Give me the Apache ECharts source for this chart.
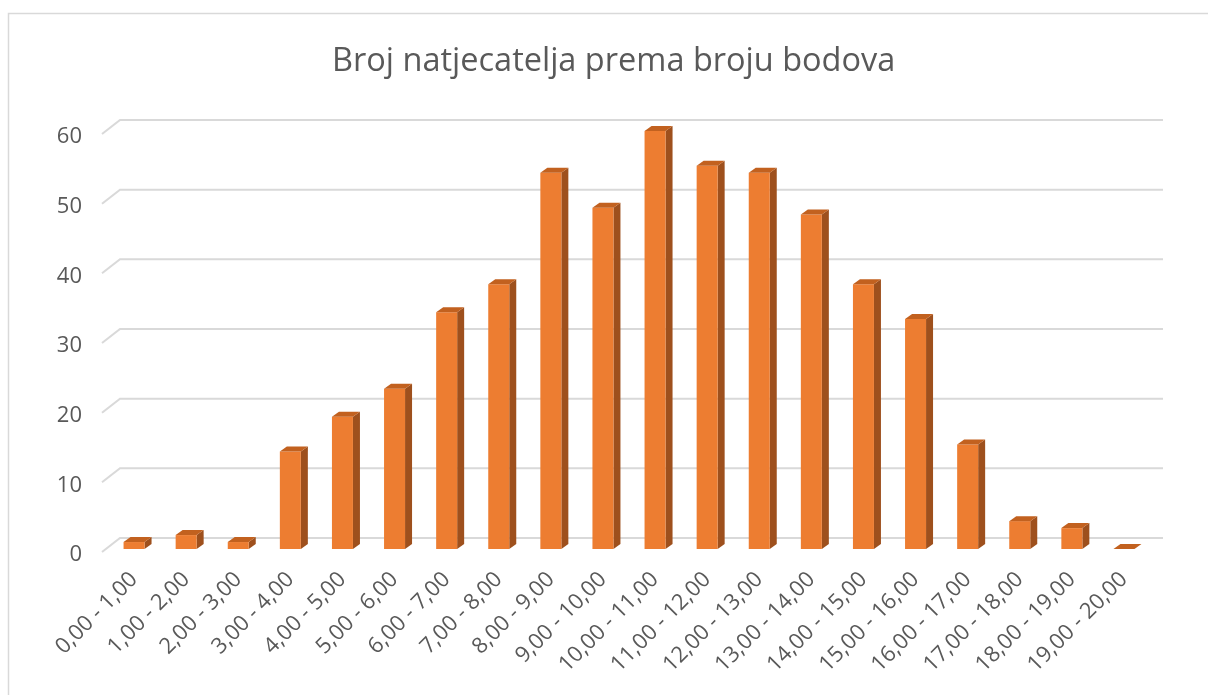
<!DOCTYPE html>
<html><head><meta charset="utf-8">
<script src="https://cdn.jsdelivr.net/npm/echarts@6/dist/echarts.min.js"></script>
<style>html,body{margin:0;padding:0;background:#fff}#c{width:1208px;height:695px}</style>
</head><body><div id="c"></div><script>
const categories = ['0,00 - 1,00','1,00 - 2,00','2,00 - 3,00','3,00 - 4,00','4,00 - 5,00','5,00 - 6,00','6,00 - 7,00','7,00 - 8,00','8,00 - 9,00','9,00 - 10,00','10,00 - 11,00','11,00 - 12,00','12,00 - 13,00','13,00 - 14,00','14,00 - 15,00','15,00 - 16,00','16,00 - 17,00','17,00 - 18,00','18,00 - 19,00','19,00 - 20,00'];
const values = [1,2,1,14,19,23,34,38,54,49,60,55,54,48,38,33,15,4,3,0];
const yTicks = [0,10,20,30,40,50,60];
const titleText = 'Broj natjecatelja prema broju bodova';

const FRONT = '#ED7D31', SIDE = '#9E501D', TOP = '#C2611F';
const DX = 7, DY = 5, BW = 21;
const GDX = 18, GDY = 14;

const chart = echarts.init(document.getElementById('c'), null, {renderer:'canvas'});
chart.setOption({
  animation: false,
  backgroundColor: '#fff',
  title: {
    text: titleText, left: 327, top: 40,
    textStyle: {fontFamily: 'Open Sans', fontSize: 32.5, fontWeight: 'normal', color: '#595959'}
  },
  graphic: [{
    type: 'rect', shape: {x: 8.5, y: 13.5, width: 1400, height: 900},
    style: {fill: 'none', stroke: '#d9d9d9', lineWidth: 1.5}, silent: true, z: -10
  }],
  grid: {left: 108, right: 58, top: 131, bottom: 146, containLabel: false},
  xAxis: {
    type: 'category', data: categories,
    axisLine: {show: false}, axisTick: {show: false}, splitLine: {show: false},
    axisLabel: {interval: 0, rotate: 45, margin: 27, color: '#595959', fontFamily: 'Open Sans', fontSize: 22}
  },
  yAxis: {
    type: 'value', min: 0, max: 60, interval: 10,
    axisLine: {show: false}, axisTick: {show: false}, splitLine: {show: false},
    axisLabel: {margin: 26, verticalAlign: 'top', lineHeight: 12, color: '#595959', fontFamily: 'Open Sans', fontSize: 22}
  },
  series: [{
    type: 'custom', name: 'grid', z: 1, silent: true, clip: false,
    data: yTicks.map(v => [0, v]),
    renderItem: function (params, api) {
      const cs = params.coordSys;
      const y = api.coord([0, api.value(1)])[1] + 3;
      const x0 = cs.x - 6;
      return {
        type: 'polyline',
        shape: {points: [[x0, y], [x0 + GDX, y - GDY], [cs.x + cs.width + 13, y - GDY]]},
        style: {fill: 'none', stroke: '#d9d9d9', lineWidth: 2}
      };
    }
  }, {
    type: 'custom', name: 'Broj', z: 2, clip: false,
    data: values.map((v, i) => [i, v]),
    renderItem: function (params, api) {
      const base = api.coord([api.value(0), 0]);
      const top = api.coord([api.value(0), api.value(1)]);
      const x0 = base[0] - BW / 2, x1 = x0 + BW, yt = top[1], yb = base[1];
      const children = [];
      if (yb - yt > 0.5) {
        children.push({type: 'polygon', shape: {points: [[x1, yt], [x1 + DX, yt - DY], [x1 + DX, yb - DY], [x1, yb]]}, style: {fill: SIDE}});
        children.push({type: 'rect', shape: {x: x0, y: yt, width: BW, height: yb - yt}, style: {fill: FRONT}});
      }
      children.push({type: 'polygon', shape: {points: [[x0, yt], [x0 + DX, yt - DY], [x1 + DX, yt - DY], [x1, yt]]}, style: {fill: TOP}});
      return {type: 'group', children: children};
    }
  }]
});
</script></body></html>
